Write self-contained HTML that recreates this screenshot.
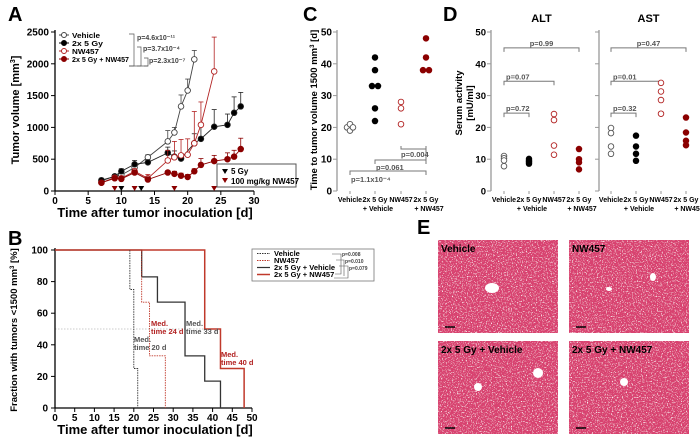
<!DOCTYPE html>
<html><head><meta charset="utf-8">
<style>
html,body{margin:0;padding:0;background:#fff;}
svg{display:block;font-family:"Liberation Sans",Arial,sans-serif;}
text{font-weight:bold;}
</style></head>
<body>
<svg id="fig" width="700" height="440" viewBox="0 0 700 440" xmlns="http://www.w3.org/2000/svg">
<defs>
<filter id="tex" x="0" y="0" width="100%" height="100%">
<feTurbulence type="fractalNoise" baseFrequency="0.8" numOctaves="2" seed="3" result="n"/>
<feColorMatrix type="matrix" values="0 0 0 0 1  0 0 0 0 0.9  0 0 0 0 0.95  0 0 0 5 -2.9" in="n" result="w"/>
<feComposite in="w" in2="SourceGraphic" operator="over"/>
</filter>
</defs>
</svg>
<script>
// ---------- DATA ----------
const aDaysVeh=[7,9,10,12,14,17,18,19,20,21];
const aVeh=[160,230,250,370,530,780,920,1330,1580,2070];
const aVehErr=[30,30,30,40,40,170,80,180,180,140];
const aDaysRt=[7,9,10,12,14,17,18,19,21,22,24,26,27,28];
const aRt=[170,230,310,420,450,600,540,510,750,820,1010,1040,1230,1330];
const aRtErr=[30,30,40,60,40,90,90,80,150,250,270,170,250,220];
const aDaysNw=[7,9,10,12,14,17,18,19,20,21,22,24];
const aNw=[130,210,200,310,200,480,530,560,570,750,1040,1880];
const aNwErr=[20,30,30,40,60,160,250,250,250,500,360,540];
const aDaysCo=[7,9,10,12,14,17,18,19,20,21,22,24,26,27,28];
const aCo=[130,200,190,290,180,290,270,240,220,310,410,470,500,540,660];
const aCoErr=[20,20,30,40,40,30,40,40,40,40,100,90,100,100,170];
const aXTicks=[0,5,10,15,20,25,30];
const aYTicks=[0,500,1000,1500,2000,2500];
const arrowBlackDays=[10,13];
const arrowRedDays=[9,12,18,24];

const bVehT=[0,19,20,21], bVehS=[100,75,25,0];
const bNwT=[0,22,24,28], bNwS=[100,67,33,0];
const bRtT=[0,22,26,33,38,42], bRtS=[100,83,67,33,17,0];
const bCoT=[0,38,42,48], bCoS=[100,50,25,0];
const bXTicks=[0,5,10,15,20,25,30,35,40,45,50];
const bYTicks=[0,20,40,60,80,100];

const cCats=["Vehicle","2x 5 Gy","NW457","2x 5 Gy"];
const cCats2=["","+ Vehicle","","+ NW457"];
const cVeh=[20,21,19,20];
const cRt=[42,38,33,33,26,22];
const cNw=[28,26,21];
const cCo=[48,42,38,38];
const cYTicks=[0,10,20,30,40,50];

const dAltVeh=[11,10.3,9.6,7.8];
const dAltRt=[10.1,9.6,9.1,8.6];
const dAltNw=[24.2,22.3,14.3,11.4];
const dAltCo=[13.2,10,9,6.8];
const dAstVeh=[19.8,18.2,14,11.7];
const dAstRt=[17.4,14,11.7,9.5];
const dAstNw=[34,31.3,28.6,24.3];
const dAstCo=[23.1,18.4,15.8,14.4];
const dYTicks=[0,10,20,30,40,50];

// ---------- HELPERS ----------
const NS="http://www.w3.org/2000/svg";
const svg=document.getElementById('fig');
function mk(tag,attrs,parent){const e=document.createElementNS(NS,tag);for(const k in attrs)e.setAttribute(k,attrs[k]);(parent||svg).appendChild(e);return e;}
function tx(x,y,s,size,anchor,fill,parent){const e=mk('text',{x:x,y:y,'font-size':size,'text-anchor':anchor||'start',fill:fill||'#000'},parent);e.textContent=s;return e;}
const RED='#b22222', DRED='#8b0000';

// ---------- PANEL A ----------
const ax=d=>55+d*(199/30), ay=v=>191-v*(159/2500);
const gA=mk('g',{});


let t=tx(8,21,'A',20,'start','#000',gA);


let l=mk('line',{x1:55,y1:30,x2:55,y2:191,stroke:'#000','stroke-width':1.3},gA);


l=mk('line',{x1:55,y1:191,x2:254,y2:191,stroke:'#000','stroke-width':1.3},gA);


aXTicks.forEach(v=>{mk('line',{x1:ax(v),y1:191,x2:ax(v),y2:195,stroke:'#000'},gA);
 t=tx(ax(v),204,String(v),10,'middle','#000',gA);
 
 });
aYTicks.forEach(v=>{mk('line',{x1:51,y1:ay(v),x2:55,y2:ay(v),stroke:'#000'},gA);
 t=tx(49,ay(v)+3.5,String(v),10,'end','#000',gA);
 
 });
t=tx(155,217,'Time after tumor inoculation [d]',13,'middle','#000',gA);


t=tx(0,0,'',11,'middle','#000',gA);t.setAttribute('transform','translate(19,110) rotate(-90)');
t.innerHTML='Tumor volume [mm<tspan dy="-4" font-size="7">3</tspan><tspan dy="4">]</tspan>';


function aSeries(days,vals,errs,col,fillCol,name){
 const g=mk('g',{},gA);
 
 
 days.forEach((d,i)=>{const x=ax(d),y=ay(vals[i]),y2=ay(vals[i]+errs[i]);
  mk('line',{x1:x,y1:y,x2:x,y2:y2,stroke:col,'stroke-width':0.8},g);
  mk('line',{x1:x-2.5,y1:y2,x2:x+2.5,y2:y2,stroke:col,'stroke-width':0.8},g);});
 mk('polyline',{points:days.map((d,i)=>ax(d)+','+ay(vals[i])).join(' '),fill:'none',stroke:col,'stroke-width':0.9},g);
 days.forEach((d,i)=>{const c=mk('circle',{cx:ax(d),cy:ay(vals[i]),r:2.8,fill:fillCol,stroke:col,'stroke-width':0.9},g);
  
  });
}
aSeries(aDaysVeh,aVeh,aVehErr,'#444','#fff','a-vehicle-series');
aSeries(aDaysRt,aRt,aRtErr,'#222','#000','a-radiation-series');
aSeries(aDaysNw,aNw,aNwErr,RED,'#fff','a-nw457-series');
aSeries(aDaysCo,aCo,aCoErr,DRED,DRED,'a-combo-series');
arrowBlackDays.forEach(d=>{const p=mk('path',{d:`M${ax(d)-3},186 L${ax(d)+3},186 L${ax(d)},191 Z`,fill:'#000'},gA);
 
 });
arrowRedDays.forEach(d=>{const p=mk('path',{d:`M${ax(d)-3},186 L${ax(d)+3},186 L${ax(d)},191 Z`,fill:DRED},gA);
 
 });
// legend A
const legA=mk('g',{},gA);


[['Vehicle','#444','#fff',38,28],['2x 5 Gy','#000','#000',46,31],['NW457',RED,'#fff',54,27],['2x 5 Gy + NW457',DRED,DRED,62,57]].forEach(r=>{
 mk('line',{x1:59,y1:r[3]-3,x2:69,y2:r[3]-3,stroke:r[1]},legA);
 mk('circle',{cx:64,cy:r[3]-3,r:2.5,fill:r[2],stroke:r[1]},legA);
 const tt=tx(72,r[3],r[0],7.5,'start','#000',legA);
 tt.setAttribute('textLength',r[4]);
 tt.setAttribute('lengthAdjust','spacingAndGlyphs');
 
 });
mk('path',{d:'M129,34 H134 V66 H129',fill:'none',stroke:'#555','stroke-width':0.7},legA);
mk('path',{d:'M137,47 H141 V66 H137',fill:'none',stroke:'#555','stroke-width':0.7},legA);
mk('path',{d:'M144,58 H148 V66 H144',fill:'none',stroke:'#555','stroke-width':0.7},legA);
mk('line',{x1:129,y1:66,x2:148,y2:66,stroke:'#555','stroke-width':0.7},legA);
t=tx(137,40,'p=4.6x10⁻¹¹',7,'start','#444',legA);
t=tx(143,51,'p=3.7x10⁻⁴',7,'start','#444',legA);
t=tx(149,63,'p=2.3x10⁻⁷',7,'start','#444',legA);
const boxA=mk('g',{},gA);


mk('rect',{x:217,y:164,width:79,height:23,fill:'#fff',stroke:'#555','stroke-width':1},boxA);
mk('path',{d:'M222,169 L228,169 L225,174 Z',fill:'#000'},boxA);
tx(231,174,'5 Gy',8,'start','#000',boxA);
mk('path',{d:'M222,178 L228,178 L225,183 Z',fill:DRED},boxA);
tx(231,184,'100 mg/kg NW457',8,'start','#000',boxA);

// ---------- PANEL B ----------
const bx=d=>55+d*(197/50), by=v=>408-v*1.58;
const gB=mk('g',{});


t=tx(8,245,'B',20,'start','#000',gB);


l=mk('line',{x1:bx(0),y1:by(50),x2:bx(38),y2:by(50),stroke:'#bbb','stroke-width':0.8,'stroke-dasharray':'1.5,1.5'},gB);


l=mk('line',{x1:55,y1:248,x2:55,y2:408,stroke:'#000','stroke-width':1.3},gB);


l=mk('line',{x1:55,y1:408,x2:252,y2:408,stroke:'#000','stroke-width':1.3},gB);


bXTicks.forEach(v=>{mk('line',{x1:bx(v),y1:408,x2:bx(v),y2:412,stroke:'#000'},gB);
 t=tx(bx(v),421,String(v),10,'middle','#000',gB);
 
 });
bYTicks.forEach(v=>{mk('line',{x1:51,y1:by(v),x2:55,y2:by(v),stroke:'#000'},gB);
 t=tx(48,by(v)+3.5,String(v),10,'end','#000',gB);
 
 });
t=tx(155,434,'Time after tumor inoculation [d]',13,'middle','#000',gB);


t=tx(0,0,'',9.5,'middle','#000',gB);t.setAttribute('transform','translate(17,330) rotate(-90)');
t.innerHTML='Fraction with tumors  &lt;1500 mm<tspan dy="-3" font-size="6">3</tspan><tspan dy="3"> [%]</tspan>';


function stepPath(T,S){let d=`M${bx(T[0])},${by(S[0])}`;for(let i=1;i<T.length;i++){d+=` H${bx(T[i])} V${by(S[i])}`;}return d;}
function bSeries(T,S,col,dash,w,name){const p=mk('path',{d:stepPath(T,S),fill:'none',stroke:col,'stroke-width':w,'stroke-dasharray':dash},gB);
 
 }
bSeries(bRtT,bRtS,'#333','none',1.3,'b-radiation-vehicle-curve');
bSeries(bCoT,bCoS,'#c0392b','none',1.5,'b-radiation-nw457-curve');
bSeries(bVehT,bVehS,'#333','1.5,1',0.9,'b-vehicle-curve');
bSeries(bNwT,bNwS,'#c0392b','1.5,1',0.9,'b-nw457-curve');
[[134,342,'Med.','#555'],[134,350,'time 20 d','#555'],[151,326,'Med.',RED],[151,334,'time 24 d',RED],[186,326,'Med.','#555'],[186,334,'time 33 d','#555'],[221,357,'Med.',RED],[221,365,'time 40 d',RED]].forEach(a=>{
 const tt=mk('text',{x:a[0],y:a[1],'font-size':7.5,fill:a[3],'font-weight':'normal'},gB);tt.textContent=a[2];
 
 });
const legB=mk('g',{},gB);


mk('rect',{x:252,y:249,width:122,height:32,fill:'#fff',stroke:'#777','stroke-width':0.8},legB);
[['Vehicle','#333','1.5,1',1,256],['NW457','#c0392b','1.5,1',1,263],['2x 5 Gy + Vehicle','#333','none',1.2,270],['2x 5 Gy + NW457','#c0392b','none',1.5,277]].forEach(r=>{
 mk('line',{x1:257,y1:r[4]-2.5,x2:270,y2:r[4]-2.5,stroke:r[1],'stroke-dasharray':r[2],'stroke-width':r[3]},legB);
 const tt=tx(274,r[4],r[0],7.5,'start','#000',legB);
 
 });
mk('path',{d:'M332,254 H341 V274 H335',fill:'none',stroke:'#555','stroke-width':0.6},legB);
mk('path',{d:'M336,260 H344 V276',fill:'none',stroke:'#555','stroke-width':0.6},legB);
mk('path',{d:'M339,266 H348 V278 H334',fill:'none',stroke:'#555','stroke-width':0.6},legB);
[[342,256,'p=0.008'],[345,263,'p=0.010'],[349,270,'p=0.079']].forEach(a=>{const tt=mk('text',{x:a[0],y:a[1],'font-size':5,fill:'#444','font-weight':'normal'},legB);tt.textContent=a[2];
 
 });

// ---------- PANEL C ----------
const cxPos=[350,375,401,426];
const cy=v=>191-v*(159/50);
const gC=mk('g',{});


t=tx(303,21,'C',20,'start','#000',gC);


l=mk('line',{x1:337,y1:30,x2:337,y2:191,stroke:'#999','stroke-width':1.3},gC);


cYTicks.forEach(v=>{mk('line',{x1:333,y1:cy(v),x2:337,y2:cy(v),stroke:'#999'},gC);
 t=tx(332,cy(v)+3.5,String(v),10,'end','#000',gC);
 
 });
t=tx(0,0,'',9.5,'middle','#000',gC);t.setAttribute('transform','translate(317,110) rotate(-90)');
t.innerHTML='Time to tumor volume 1500 mm<tspan dy="-3" font-size="6">3</tspan><tspan dy="3"> [d]</tspan>';


cCats.forEach((c,i)=>{mk('line',{x1:cxPos[i],y1:191,x2:cxPos[i],y2:194,stroke:'#999'},gC);
 t=tx(cxPos[i],202,c,7,'middle','#000',gC);
 
 
 if(cCats2[i]){t=tx(cxPos[i]+3,211,cCats2[i],7,'middle','#000',gC);
 
 }});
function jitterPlot(vals,cx0,scale,col,fill,g,name){
 const seen={};
 vals.forEach(v=>{const k=Math.round(v*2);seen[k]=(seen[k]||0)+1;});
 const used={};
 vals.forEach(v=>{const k=Math.round(v*2);const n=seen[k];used[k]=(used[k]||0);
  const off=n>1?(used[k]-(n-1)/2)*6:0;used[k]++;
  const c=mk('circle',{cx:cx0+off,cy:scale(v),r:2.8,fill:fill,stroke:col,'stroke-width':0.9},g);
  
  });
}
jitterPlot(cVeh,cxPos[0],cy,'#555','#fff',gC,'c-vehicle-point');
jitterPlot(cRt,cxPos[1],cy,'#000','#000',gC,'c-radiation-point');
jitterPlot(cNw,cxPos[2],cy,RED,'#fff',gC,'c-nw457-point');
jitterPlot(cCo,cxPos[3],cy,DRED,DRED,gC,'c-combo-point');
// brackets: [x1,x2,lineY,tickDir,text,textX,textY]
[[cxPos[2],cxPos[3],149,-3,'p=0.004',cxPos[2],157],[cxPos[1],cxPos[3],160,4,'p=0.061',cxPos[1]+1,170],[cxPos[0],cxPos[3],171,4,'p=1.1x10⁻⁴',cxPos[0]+1,182]].forEach(b=>{
 const g=mk('g',{},gC);
 
 
 mk('path',{d:`M${b[0]},${b[2]+b[3]} V${b[2]} H${b[1]} V${b[2]+b[3]}`,fill:'none',stroke:'#777'},g);
 tx(b[5],b[6],b[4],7.5,'start','#555',g);});
mk('line',{x1:cxPos[3],y1:149,x2:cxPos[3],y2:160,stroke:'#777'},gC);

// ---------- PANEL D ----------
const dy=v=>191-v*(159/50);
const gD=mk('g',{});


t=tx(443,21,'D',20,'start','#000',gD);


t=tx(0,0,'Serum activity',9.5,'middle','#000',gD);t.setAttribute('transform','translate(462,103) rotate(-90)');


t=tx(0,0,'[mU/ml]',9.5,'middle','#000',gD);t.setAttribute('transform','translate(473,103) rotate(-90)');


function dPanel(axX,cx,title,series,pv,nm,showTicks){
 const g=mk('g',{},gD);
 
 
 mk('line',{x1:axX,y1:30,x2:axX,y2:191,stroke:'#999','stroke-width':1.3},g);
 dYTicks.forEach(v=>{mk('line',{x1:axX-4,y1:dy(v),x2:axX,y2:dy(v),stroke:'#999'},g);
  if(showTicks){const tt=tx(axX-5,dy(v)+3.5,String(v),9.5,'end','#000',g);
  
  }});
 const tt=tx((cx[0]+cx[3])/2,22,title,11,'middle','#000',g);
 
 
 cCats.forEach((c,i)=>{mk('line',{x1:cx[i],y1:191,x2:cx[i],y2:194,stroke:'#999'},g);
  tx(cx[i],202,c,7,'middle','#000',g);
  if(cCats2[i])tx(cx[i]+3,211,cCats2[i],7,'middle','#000',g);});
 [[3,45,pv[0]],[2,34.5,pv[1]],[1,24.5,pv[2]]].forEach(b=>{
  const yb=dy(b[1]);
  const br=mk('path',{d:`M${cx[0]},${yb+4} V${yb} H${cx[b[0]]} V${yb+4}`,fill:'none',stroke:'#777'},g);
  
  
  const pt=tx(b[0]===3?(cx[0]+cx[3])/2:cx[0]+2,yb-2,b[2],7.5,b[0]===3?'middle':'start','#555',g);
  
  });
 jitterPlot(series[0],cx[0],dy,'#555','#fff',g,'d-vehicle-point');
 jitterPlot(series[1],cx[1],dy,'#000','#000',g,'d-radiation-point');
 jitterPlot(series[2],cx[2],dy,RED,'#fff',g,'d-nw457-point');
 jitterPlot(series[3],cx[3],dy,DRED,DRED,g,'d-combo-point');
}
dPanel(491,[504,529,554,579],'ALT',[dAltVeh,dAltRt,dAltNw,dAltCo],['p=0.99','p=0.07','p=0.72'],'d-alt-plot',true);
dPanel(599,[611,636,661,686],'AST',[dAstVeh,dAstRt,dAstNw,dAstCo],['p=0.47','p=0.01','p=0.32'],'d-ast-plot',false);

// ---------- PANEL E ----------
const gE=mk('g',{});


t=tx(417,234,'E',20,'start','#000',gE);


[[438,240,'Vehicle',[[492,288,7,5]]],[569,240,'NW457',[[653,277,3,4],[609,289,3,2]]],[438,341,'2x 5 Gy + Vehicle',[[538,373,5,5],[478,387,4,4]]],[569,341,'2x 5 Gy + NW457',[[624,382,4,4]]]].forEach(p=>{
 const g=mk('g',{},gE);
 
 
 mk('rect',{x:p[0],y:p[1],width:120,height:93,fill:'#d8436f',filter:'url(#tex)'},g);
 p[3].forEach(h=>mk('ellipse',{cx:h[0],cy:h[1],rx:h[2],ry:h[3],fill:'#fff'},g));
 mk('line',{x1:p[0]+7,y1:p[1]+87,x2:p[0]+17,y2:p[1]+87,stroke:'#000','stroke-width':1.5},g);
 const tt=tx(p[0]+3,p[1]+12,p[2],10,'start','#000',g);
 
 });
</script>
</body></html>
